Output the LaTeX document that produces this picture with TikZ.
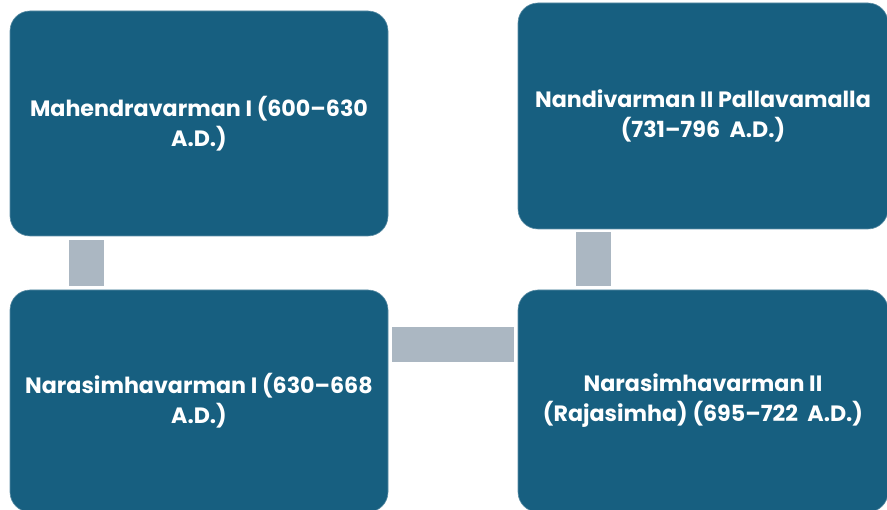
\documentclass[tikz,border=0pt]{standalone}
\usepackage{fontspec}
\setmainfont{Poppins}
\usetikzlibrary{positioning}
\definecolor{kingblue}{HTML}{175F80}
\definecolor{linkgray}{HTML}{ABB7C2}

\begin{document}
\begin{tikzpicture}[x=1pt, y=-1pt,
  king/.style={rectangle, rounded corners=20pt, fill=kingblue, draw=kingblue!70!white, line width=0.6pt,
    text=white, font=\bfseries\fontsize{22.2}{30}\selectfont, align=center, inner sep=0pt},
  link/.style={draw=linkgray, line width=35pt, shorten <=4pt, shorten >=4pt}]
\useasboundingbox (0,0) rectangle (887,510);

\node[king, minimum width=378pt, minimum height=225pt] (m1) at (199,123.5) {Mahendravarman I (600–630\\A.D.)};
\node[king, minimum width=378pt, minimum height=222pt] (n1) at (199,401) {Narasimhavarman I (630–668\\A.D.)};
\node[king, minimum width=370pt, minimum height=222pt] (n2) at (703,401) {Narasimhavarman II\\(Rajasimha) (695–722~ A.D.)};
\node[king, minimum width=370pt, minimum height=226pt] (n3) at (703,116) {Nandivarman II Pallavamalla\\(731–796~ A.D.)};

\draw[link] ([xshift=76.5pt]m1.south west) -- ([xshift=76.5pt]n1.north west);
\draw[link] ([yshift=56.5pt]n1.east) -- ([yshift=56.5pt]n2.west);
\draw[link, shorten <=3pt] ([xshift=76pt]n3.south west) -- ([xshift=76pt]n2.north west);
\end{tikzpicture}
\end{document}
